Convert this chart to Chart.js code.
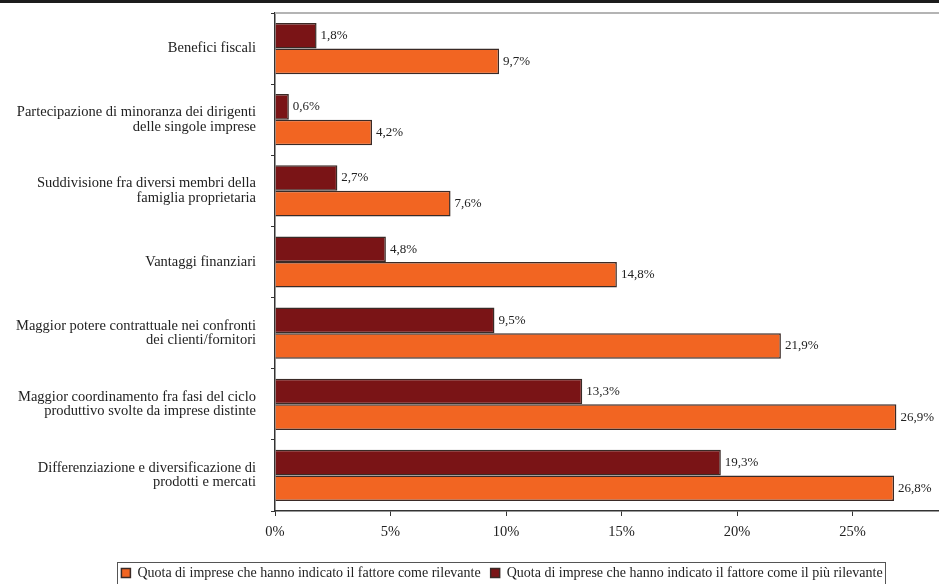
<!DOCTYPE html>
<html lang="it">
<head>
<meta charset="UTF-8">
<title>Motivazioni</title>
<script src="https://cdn.jsdelivr.net/npm/chart.js"></script>
<style>
  html, body { margin: 0; padding: 0; background: #fff; overflow: hidden; }
  #wrap { width: 968px; height: 584px; }
</style>
</head>
<body>
<div id="wrap"><canvas id="myChart"></canvas></div>

<script>
const categorie = [
  'Benefici fiscali',
  ['Partecipazione di minoranza dei dirigenti', 'delle singole imprese'],
  ['Suddivisione fra diversi membri della', 'famiglia proprietaria'],
  'Vantaggi finanziari',
  ['Maggior potere contrattuale nei confronti', 'dei clienti/fornitori'],
  ['Maggior coordinamento fra fasi del ciclo', 'produttivo svolte da imprese distinte'],
  ['Differenziazione e diversificazione di', 'prodotti e mercati']
];
const piuRilevante = [1.8, 0.6, 2.7, 4.8, 9.5, 13.3, 19.3];
const rilevante = [9.7, 4.2, 7.6, 14.8, 21.9, 26.9, 26.8];
const tickValori = [0, 5, 10, 15, 20, 25, 30];

const serif = 'Liberation Serif';
const fmt = v => v.toFixed(1).replace('.', ',') + '%';

// black band at the top, grey frame line, value labels, legend box
const extras = {
  id: 'extras',
  afterLayout(chart) {
    // legend sits a little right of the canvas centre
    const lg = chart.legend;
    lg.left += 18;
    lg.right += 18;
  },
  beforeDraw(chart) {
    const ctx = chart.ctx;
    ctx.save();
    ctx.fillStyle = '#1c1c1c';
    ctx.fillRect(0, 0, chart.width, 3);
    ctx.restore();
  },
  afterDatasetsDraw(chart) {
    const ctx = chart.ctx;
    const a = chart.chartArea;
    ctx.save();
    ctx.strokeStyle = '#b4b4b4';
    ctx.lineWidth = 2;
    ctx.beginPath();
    ctx.moveTo(a.left, a.top);
    ctx.lineTo(a.right, a.top);
    ctx.stroke();

    ctx.font = '13px "' + serif + '"';
    ctx.fillStyle = '#222';
    ctx.textBaseline = 'middle';
    ctx.textAlign = 'left';
    chart.data.datasets.forEach((ds, i) => {
      chart.getDatasetMeta(i).data.forEach((bar, j) => {
        ctx.fillText(fmt(ds.data[j]), bar.x + 4, bar.y);
      });
    });
    ctx.restore();
  },
  afterDraw(chart) {
    const ctx = chart.ctx;
    const boxes = chart.legend.legendHitBoxes;
    if (!boxes || !boxes.length) return;
    const first = boxes[0];
    const left = Math.min(...boxes.map(b => b.left));
    const right = Math.max(...boxes.map(b => b.left + b.width));
    ctx.save();
    ctx.strokeStyle = '#555';
    ctx.lineWidth = 1;
    ctx.strokeRect(Math.round(left - 4) + 0.5, Math.round(first.top - 4) + 0.5,
      Math.round(right - left + 7), Math.round(first.height + 8));
    ctx.restore();
  }
};

new Chart(document.getElementById('myChart'), {
  type: 'bar',
  data: {
    labels: categorie,
    datasets: [{
      label: 'Quota di imprese che hanno indicato il fattore come il più rilevante',
      data: piuRilevante,
      backgroundColor: '#7a1416',
      borderColor: '#3a2a26',
      borderWidth: 1.5
    }, {
      label: 'Quota di imprese che hanno indicato il fattore come rilevante',
      data: rilevante,
      backgroundColor: '#f26522',
      borderColor: '#3a2a26',
      borderWidth: 1.5
    }]
  },
  options: {
    indexAxis: 'y',
    responsive: true,
    maintainAspectRatio: false,
    animation: false,
    categoryPercentage: 0.72,
    barPercentage: 1.0,
    layout: { padding: { top: 13, right: 0, left: 0, bottom: -6 } },
    plugins: {
      tooltip: { enabled: false },
      legend: {
        position: 'bottom',
        reverse: true,
        labels: {
          boxWidth: 9,
          boxHeight: 9,
          padding: 10,
          color: '#222',
          font: { family: serif, size: 14 }
        }
      }
    },
    scales: {
      x: {
        min: 0,
        max: 30,
        afterBuildTicks: s => { s.ticks = tickValori.map(v => ({ value: v })); },
        afterFit: s => { s.height = 45; s.paddingLeft = 0; s.paddingRight = 0; },
        border: { color: '#333', width: 1.5 },
        grid: { drawOnChartArea: false, drawTicks: true, tickLength: 5, color: '#333' },
        ticks: {
          color: '#222',
          padding: 7,
          font: { family: serif, size: 14.5 },
          callback: v => v + '%'
        }
      },
      y: {
        afterFit: s => { s.width = 275; s.paddingTop = 0; s.paddingBottom = 0; },
        border: { color: '#333', width: 1.5 },
        grid: { drawOnChartArea: false, drawTicks: true, tickLength: 4, color: '#333' },
        ticks: {
          color: '#222',
          padding: 15,
          font: { family: serif, size: 14.5, lineHeight: 1.0 }
        }
      }
    }
  },
  plugins: [extras]
});
</script>
</body>
</html>
